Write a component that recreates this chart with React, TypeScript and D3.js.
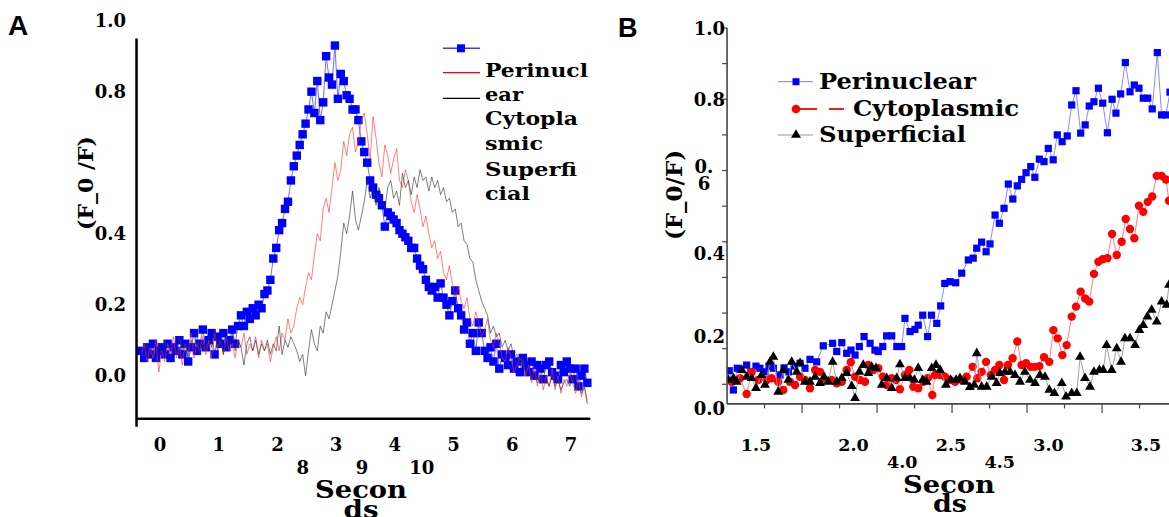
import React from "react";
import * as d3 from "d3";

const W = 1169;
const H = 517;

// ---- Panel A: traces sampled every 0.05 s starting at -0.32 s ----
const aStart = -0.32;
const aStep = 0.05;

const aPerinuclear = [
  0.07, 0.05, 0.08, 0.06, 0.09, 0.05, 0.07, 0.08, 0.06, 0.09,
  0.05, 0.08, 0.07, 0.1, 0.06, 0.09, 0.04, 0.08, 0.12, 0.07,
  0.09, 0.13, 0.08, 0.1, 0.12, 0.06, 0.11, 0.09, 0.12, 0.08,
  0.1, 0.13, 0.09, 0.14, 0.17, 0.14, 0.18, 0.16, 0.19, 0.17,
  0.2, 0.19, 0.23, 0.24, 0.27, 0.33, 0.36, 0.41, 0.43, 0.47,
  0.49, 0.55, 0.59, 0.62, 0.65, 0.68, 0.71, 0.75, 0.8, 0.74,
  0.83, 0.72, 0.77, 0.9, 0.84, 0.82, 0.93, 0.78, 0.85, 0.83,
  0.79, 0.78, 0.75, 0.75, 0.72, 0.66, 0.63, 0.6, 0.55, 0.53,
  0.51, 0.5, 0.48, 0.42, 0.46, 0.45, 0.44, 0.43, 0.41, 0.4,
  0.39, 0.38, 0.36, 0.36, 0.33, 0.31, 0.3, 0.27, 0.25, 0.24,
  0.25, 0.22, 0.26, 0.22, 0.2, 0.17, 0.21, 0.24, 0.19, 0.17,
  0.13, 0.15, 0.09, 0.12, 0.07, 0.15, 0.12, 0.07, 0.05, 0.08,
  0.04, 0.09, 0.02, 0.06, 0.05, 0.03, 0.06, 0.02, 0.04, 0.01,
  0.05, 0.03, 0.01, 0.04, 0.0, 0.03, 0.02, -0.01, 0.03, 0.04,
  0.01, 0.0, -0.01, 0.03, 0.01, 0.04, 0.02, -0.01, 0.02, -0.03,
  0.0, 0.02, -0.02,
];

const aCytoplasmic = [
  0.06, 0.09, 0.04, 0.08, 0.05, 0.1, 0.01, 0.07, 0.04, 0.09,
  0.06, 0.11, 0.05, 0.08, 0.03, 0.09, 0.06, 0.12, 0.05, 0.09,
  0.07, 0.11, 0.06, 0.1, 0.05, 0.12, 0.08, 0.1, 0.06, 0.11,
  0.07, 0.09, 0.05, 0.1, 0.08, 0.12, 0.06, 0.09, 0.07, 0.11,
  0.05, 0.1, 0.07, 0.09, 0.04, 0.08, 0.11, 0.07, 0.12, 0.1,
  0.16, 0.12, 0.14, 0.19, 0.22, 0.2, 0.25, 0.29, 0.27, 0.34,
  0.4, 0.38, 0.47, 0.5, 0.46, 0.53, 0.6, 0.55, 0.58, 0.66,
  0.62, 0.68, 0.7, 0.63, 0.66, 0.72, 0.74, 0.68, 0.61, 0.73,
  0.67, 0.6, 0.56, 0.65, 0.62, 0.57, 0.61, 0.64, 0.55, 0.53,
  0.58, 0.55, 0.49, 0.46, 0.51, 0.47, 0.42, 0.45, 0.4, 0.36,
  0.38, 0.33, 0.35, 0.29, 0.27, 0.31, 0.26, 0.22, 0.25, 0.21,
  0.19, 0.22, 0.16, 0.14, 0.18, 0.15, 0.11, 0.13, 0.16, 0.1,
  0.08, 0.12, 0.09, 0.05, 0.04, 0.08, 0.05, 0.01, 0.03, 0.05,
  0.04, 0.0, 0.03, -0.02, 0.02, -0.03, 0.01, -0.04, 0.0, -0.03,
  0.02, -0.04, 0.0, -0.05, -0.01, -0.03, 0.01, -0.02, -0.05, -0.01,
  -0.06, -0.03, -0.07,
];

const aSuperficial = [
  0.07, 0.05, 0.09, 0.06, 0.08, 0.04, 0.09, 0.06, 0.1, 0.07,
  0.05, 0.09, 0.06, 0.11, 0.07, 0.09, 0.05, 0.1, 0.08, 0.12,
  0.06, 0.1, 0.07, 0.11, 0.08, 0.13, 0.07, 0.1, 0.06, 0.11,
  0.08, 0.12, 0.07, 0.1, 0.08, 0.03, 0.09, 0.11, 0.07, 0.1,
  0.06, 0.09, 0.07, 0.1, 0.06, 0.09, 0.07, 0.14, 0.06, 0.1,
  0.08, 0.11, 0.09, 0.07, 0.04, 0.06, 0.0, 0.07, 0.13, 0.09,
  0.07, 0.14, 0.12, 0.18, 0.16, 0.2, 0.24, 0.28, 0.35, 0.43,
  0.4, 0.45, 0.52, 0.44, 0.41, 0.45, 0.49, 0.55, 0.5, 0.53,
  0.48, 0.53, 0.5, 0.47, 0.53, 0.55, 0.5, 0.52, 0.48, 0.57,
  0.53, 0.55, 0.51, 0.56, 0.53, 0.58, 0.55, 0.56, 0.52, 0.56,
  0.53, 0.55, 0.51, 0.53, 0.49, 0.5, 0.46, 0.47, 0.42, 0.43,
  0.38, 0.37, 0.33, 0.32, 0.27, 0.24, 0.21, 0.19, 0.17, 0.12,
  0.14, 0.11, 0.12, 0.08, 0.1, 0.07, 0.09, 0.05, 0.06, 0.03,
  0.05, 0.01, 0.02, -0.01, 0.01, -0.02, 0.0, -0.02, -0.01, -0.03,
  0.0, -0.03, -0.01, -0.04, -0.02, -0.01, -0.03, 0.0, -0.04, -0.02,
  -0.05, -0.03, -0.08,
];

const aXTicks = [0, 1, 2, 3, 4, 5, 6, 7];
const aXTicksRow2 = [
  { label: "8", at: 2.43 },
  { label: "9", at: 3.44 },
  { label: "10", at: 4.46 },
];
const aYTicks = [1.0, 0.8, 0.4, 0.2, 0.0];
const aLegendText = ["Perinucl", "ear", "Cytopla", "smic", "Superfi", "cial"];
const aLegendWidths = [103, 38, 93, 58, 92, 45];

// ---- Panel B: [seconds, F0/F] ----
const bPerinuclear = [
  [1.363, 0.038], [1.384, -0.016], [1.404, 0.045], [1.452, 0.054], [1.474, 0.035],
  [1.5, 0.051], [1.52, 0.045], [1.546, 0.035], [1.567, 0.051], [1.589, 0.045],
  [1.623, 0.026], [1.644, 0.046], [1.666, 0.035], [1.695, 0.051], [1.726, 0.059],
  [1.751, 0.045], [1.777, 0.07], [1.811, 0.063], [1.845, 0.108], [1.893, 0.115],
  [1.914, 0.092], [1.94, 0.117], [1.965, 0.087], [1.987, 0.096], [2.008, 0.082],
  [2.03, 0.106], [2.054, 0.134], [2.085, 0.115], [2.11, 0.096], [2.127, 0.092],
  [2.15, 0.106], [2.17, 0.136], [2.196, 0.136], [2.222, 0.106], [2.247, 0.106],
  [2.264, 0.185], [2.29, 0.148], [2.315, 0.154], [2.332, 0.166], [2.355, 0.194],
  [2.38, 0.134], [2.4, 0.194], [2.427, 0.171], [2.447, 0.22], [2.468, 0.283],
  [2.495, 0.288], [2.524, 0.285], [2.555, 0.312], [2.589, 0.349], [2.614, 0.354],
  [2.632, 0.382], [2.657, 0.399], [2.68, 0.372], [2.7, 0.394], [2.726, 0.475],
  [2.748, 0.452], [2.772, 0.494], [2.794, 0.562], [2.817, 0.52], [2.84, 0.557],
  [2.862, 0.575], [2.885, 0.594], [2.909, 0.611], [2.93, 0.581], [2.953, 0.632],
  [2.977, 0.625], [2.999, 0.662], [3.024, 0.63], [3.045, 0.7], [3.07, 0.681],
  [3.096, 0.697], [3.119, 0.784], [3.141, 0.824], [3.165, 0.705], [3.188, 0.728],
  [3.209, 0.781], [3.233, 0.793], [3.256, 0.831], [3.278, 0.789], [3.302, 0.706],
  [3.326, 0.8], [3.346, 0.761], [3.37, 0.815], [3.394, 0.903], [3.418, 0.821],
  [3.44, 0.84], [3.464, 0.831], [3.486, 0.803], [3.509, 0.803], [3.532, 0.773],
  [3.558, 0.931], [3.58, 0.756], [3.602, 0.756], [3.623, 0.82],
];

const bCytoplasmic = [
  [1.375, 0.007], [1.418, 0.017], [1.452, -0.027], [1.478, 0.035], [1.512, 0.012],
  [1.555, 0.012], [1.58, 0.017], [1.614, 0.007], [1.64, -0.016], [1.674, 0.007],
  [1.7, -0.002], [1.726, 0.021], [1.751, 0.012], [1.777, -0.011], [1.803, 0.04],
  [1.828, 0.035], [1.854, 0.012], [1.888, 0.012], [1.914, 0.003], [1.94, 0.007],
  [1.965, 0.04], [1.986, 0.062], [2.008, 0.021], [2.033, 0.012], [2.059, 0.007],
  [2.076, 0.054], [2.102, 0.04], [2.127, 0.045], [2.15, 0.021], [2.17, -0.002],
  [2.196, 0.017], [2.218, 0.012], [2.238, -0.014], [2.264, 0.026], [2.286, 0.04],
  [2.307, -0.007], [2.332, -0.011], [2.358, 0.007], [2.382, 0.018], [2.404, -0.03],
  [2.418, 0.026], [2.444, 0.026], [2.469, 0.021], [2.495, 0.012], [2.521, 0.007],
  [2.555, 0.012], [2.58, 0.021], [2.611, 0.049], [2.635, 0.017], [2.657, 0.035],
  [2.68, 0.063], [2.704, 0.026], [2.726, 0.04], [2.748, 0.054], [2.772, 0.012],
  [2.792, 0.054], [2.816, 0.073], [2.84, 0.12], [2.862, 0.054], [2.885, 0.059],
  [2.909, 0.049], [2.93, 0.049], [2.953, 0.051], [2.977, 0.076], [3.004, 0.063],
  [3.025, 0.152], [3.047, 0.129], [3.071, 0.082], [3.093, 0.11], [3.119, 0.19],
  [3.141, 0.218], [3.165, 0.26], [3.188, 0.241], [3.209, 0.232], [3.233, 0.31],
  [3.256, 0.344], [3.278, 0.351], [3.302, 0.354], [3.326, 0.422], [3.35, 0.363],
  [3.375, 0.4], [3.396, 0.464], [3.418, 0.436], [3.44, 0.41], [3.464, 0.501],
  [3.486, 0.484], [3.509, 0.512], [3.532, 0.527], [3.555, 0.585], [3.58, 0.585],
  [3.602, 0.575], [3.618, 0.515],
];

const bSuperficial = [
  [1.358, 0.012], [1.384, 0.017], [1.401, 0.007], [1.427, 0.04], [1.452, 0.021],
  [1.478, 0.017], [1.5, -0.011], [1.529, 0.026], [1.546, -0.002], [1.572, 0.063],
  [1.589, 0.077], [1.614, -0.021], [1.64, 0.04], [1.666, 0.012], [1.683, 0.063],
  [1.709, 0.035], [1.726, 0.059], [1.751, 0.007], [1.777, 0.007], [1.803, 0.021],
  [1.828, 0.003], [1.849, 0.021], [1.871, 0.007], [1.893, 0.063], [1.914, 0.007],
  [1.94, 0.017], [1.965, 0.031], [1.991, -0.005], [2.008, -0.039], [2.03, 0.035],
  [2.05, 0.054], [2.076, 0.031], [2.093, 0.049], [2.115, 0.045], [2.145, -0.002],
  [2.17, 0.017], [2.196, -0.011], [2.222, 0.017], [2.238, 0.056], [2.264, 0.017],
  [2.29, 0.017], [2.312, 0.012], [2.332, 0.045], [2.355, 0.012], [2.375, 0.007],
  [2.401, 0.045], [2.423, 0.054], [2.444, 0.04], [2.474, -0.002], [2.498, 0.012],
  [2.526, 0.012], [2.546, 0.017], [2.572, 0.007], [2.597, -0.008], [2.619, -0.002],
  [2.632, 0.087], [2.657, -0.007], [2.683, -0.007], [2.709, 0.021], [2.734, 0.003],
  [2.751, 0.031], [2.777, 0.035], [2.803, 0.035], [2.828, 0.026], [2.854, 0.007],
  [2.879, 0.035], [2.905, 0.012], [2.931, 0.003], [2.956, 0.026], [2.982, 0.021],
  [3.004, -0.016], [3.03, -0.025], [3.068, 0.003], [3.09, -0.035], [3.119, -0.025],
  [3.145, -0.025], [3.162, 0.077], [3.187, 0.017], [3.213, -0.007], [3.233, 0.035],
  [3.261, 0.04], [3.281, 0.04], [3.298, 0.11], [3.324, 0.04], [3.35, 0.101],
  [3.372, 0.063], [3.392, 0.129], [3.418, 0.129], [3.444, 0.11], [3.466, 0.152],
  [3.486, 0.166], [3.507, 0.19], [3.529, 0.209], [3.555, 0.176], [3.58, 0.232],
  [3.606, 0.223], [3.618, 0.279],
];

const bXTicks = [1.5, 2.0, 2.5, 3.0, 3.5];
const bXTicksRow2 = [
  { label: "4.0", at: 2.25 },
  { label: "4.5", at: 2.75 },
];
const bYTickValues = d3.range(0, 11).map((i) => i / 10);
const bYLabels = [
  { label: "1.0", at: 1.0 },
  { label: "0.8", at: 0.8 },
  { label: "0.4", at: 0.368 },
  { label: "0.2", at: 0.134 },
  { label: "0.0", at: -0.067 },
];
const bLegend = ["Perinuclear", "Cytoplasmic", "Superficial"];

const SERIF = "'DejaVu Serif', serif";
const SANS = "'Liberation Sans', Arial, sans-serif";

export default function App() {
  // panel A scales
  const xA = d3.scaleLinear().domain([0, 7]).range([160, 570.9]);
  const yA = d3.scaleLinear().domain([0, 1]).range([375.7, 20.7]);
  const aX0 = xA(-0.4);
  const aX1 = xA(7.33);
  const aYTop = yA(0.95);
  const aYBot = yA(-0.121);

  // panel B scales
  const xB = d3.scaleLinear().domain([1.5, 3.5]).range([756, 1146]);
  const yB = d3.scaleLinear().domain([0, 1]).range([384.3, 28]);
  const bX0 = xB(1.3515);
  const bYBot = yB(-0.055);
  const bTickScale = d3.scaleLinear().domain([0, 1]).range([bX0, bX0 + 37.5]);
  const bTickIdx = d3.range(1, 12);

  const aPts = (vals: number[]) =>
    vals.map((v, i) => [aStart + i * aStep, v] as [number, number]);
  const lineA = d3
    .line<[number, number]>()
    .x((d) => xA(d[0]))
    .y((d) => yA(d[1]));
  const lineB = d3
    .line<number[]>()
    .x((d) => xB(d[0]))
    .y((d) => yB(d[1]));
  const tri = d3.symbol().type(d3.symbolTriangle).size(42)();

  const blueA = aPts(aPerinuclear);
  const redA = aPts(aCytoplasmic);
  const blackA = aPts(aSuperficial);

  return (
    <svg
      width={W}
      height={H}
      style={{ position: "absolute", left: 0, top: 0, background: "#fff" }}
    >
      <defs>
        <clipPath id="clipB">
          <rect x={bX0} y={0} width={W - bX0} height={bYBot} />
        </clipPath>
      </defs>

      {/* ================= Panel A ================= */}
      <text x={8} y={35} fontFamily={SANS} fontWeight="bold" fontSize={28}>
        A
      </text>

      <g fontFamily={SERIF} fontWeight="bold" fontSize={18}>
        {aYTicks.map((v) => (
          <text key={v} x={126} y={yA(v) + 6.6} textAnchor="end">
            {v.toFixed(1)}
          </text>
        ))}
        {aXTicks.map((v) => (
          <text key={v} x={xA(v)} y={450.7} textAnchor="middle">
            {v}
          </text>
        ))}
        {aXTicksRow2.map((d) => (
          <text key={d.label} x={xA(d.at)} y={474} textAnchor="middle">
            {d.label}
          </text>
        ))}
      </g>
      <g fontFamily={SERIF} fontWeight="bold" fontSize={24}>
        <text x={361} y={498} textAnchor="middle" textLength={92} lengthAdjust="spacingAndGlyphs">
          Secon
        </text>
        <text x={361} y={518} textAnchor="middle" textLength={35} lengthAdjust="spacingAndGlyphs">
          ds
        </text>
      </g>
      <text
        transform="translate(93,183) rotate(-90)"
        textAnchor="middle"
        fontFamily={SERIF}
        fontWeight="bold"
        fontSize={21}
        textLength={94}
        lengthAdjust="spacingAndGlyphs"
      >
        (F_0 /F)
      </text>

      {/* traces */}
      <path d={lineA(blueA) || ""} fill="none" stroke="#6f6fff" strokeWidth={1} />
      {blueA.map((d, i) => (
        <rect
          key={i}
          x={xA(d[0]) - 4.2}
          y={yA(d[1]) - 4.2}
          width={8.4}
          height={8.4}
          fill="#0000ff"
        />
      ))}
      <path d={lineA(redA) || ""} fill="none" stroke="#ff2a2a" strokeWidth={0.7} strokeOpacity={0.85} />
      <path d={lineA(blackA) || ""} fill="none" stroke="#333" strokeWidth={0.7} strokeOpacity={0.9} />

      {/* axes A */}
      <line x1={aX0} x2={aX0} y1={aYTop} y2={aYBot + 8} stroke="#000" strokeWidth={2.5} />
      <line x1={aX0} x2={aX1} y1={aYBot} y2={aYBot} stroke="#000" strokeWidth={2.5} />

      {/* legend A */}
      <line x1={443} x2={480} y1={48.3} y2={48.3} stroke="#3a3aff" strokeWidth={1.5} />
      <rect x={457} y={44.3} width={8} height={8} fill="#0000ff" />
      <line x1={443} x2={480} y1={72.7} y2={72.7} stroke="#ff0000" strokeWidth={1.2} />
      <line x1={443} x2={480} y1={98.3} y2={98.3} stroke="#000" strokeWidth={1.2} />
      <g fontFamily={SERIF} fontWeight="bold" fontSize={19}>
        {aLegendText.map((t, i) => (
          <text
            key={t}
            x={485}
            y={[76.5, 100.5, 125, 150, 176, 200][i]}
            textLength={aLegendWidths[i]}
            lengthAdjust="spacingAndGlyphs"
          >
            {t}
          </text>
        ))}
      </g>

      {/* ================= Panel B ================= */}
      <text x={618} y={37} fontFamily={SANS} fontWeight="bold" fontSize={27}>
        B
      </text>

      <g clipPath="url(#clipB)">
        <path d={lineB(bPerinuclear) || ""} fill="none" stroke="#7a7aff" strokeWidth={0.9} />
        {bPerinuclear.map((d, i) => (
          <rect
            key={i}
            x={xB(d[0]) - 3.6}
            y={yB(d[1]) - 3.6}
            width={7.2}
            height={7.2}
            fill="#0000ff"
          />
        ))}
        <path d={lineB(bCytoplasmic) || ""} fill="none" stroke="#ff7070" strokeWidth={0.9} />
        {bCytoplasmic.map((d, i) => (
          <circle key={i} cx={xB(d[0])} cy={yB(d[1])} r={4.2} fill="#ff0000" />
        ))}
        <path d={lineB(bSuperficial) || ""} fill="none" stroke="#999" strokeWidth={0.9} />
        {bSuperficial.map((d, i) => (
          <path
            key={i}
            d={tri || ""}
            transform={`translate(${xB(d[0])},${yB(d[1])})`}
            fill="#000"
          />
        ))}
      </g>

      {/* axes B */}
      <line x1={bX0} x2={bX0} y1={yB(1)} y2={bYBot} stroke="#444" strokeWidth={1.6} />
      <line x1={bX0} x2={W} y1={bYBot} y2={bYBot} stroke="#444" strokeWidth={1.6} />
      {bYTickValues.map((v) => (
        <line key={v} x1={bX0 - 5} x2={bX0} y1={yB(v)} y2={yB(v)} stroke="#444" strokeWidth={1.2} />
      ))}
      {bTickIdx.map((k) => (
        <line
          key={k}
          x1={bTickScale(k)}
          x2={bTickScale(k)}
          y1={bYBot}
          y2={bYBot + (k % 2 === 0 ? 9 : 4.5)}
          stroke="#444"
          strokeWidth={1.2}
        />
      ))}

      <g fontFamily={SERIF} fontWeight="bold" fontSize={18}>
        {bYLabels.map((d) => (
          <text key={d.label} x={725} y={yB(d.at) + 6.7} textAnchor="end">
            {d.label}
          </text>
        ))}
        <text x={704} y={yB(0.612) + 6.7} textAnchor="middle">
          0.
        </text>
        <text x={704} y={yB(0.612) + 23.7} textAnchor="middle">
          6
        </text>
      </g>
      <g fontFamily={SERIF} fontWeight="bold" fontSize={17.5}>
        {bXTicks.map((v) => (
          <text key={v} x={xB(v)} y={450.7} textAnchor="middle">
            {v.toFixed(1)}
          </text>
        ))}
        {bXTicksRow2.map((d) => (
          <text key={d.label} x={xB(d.at)} y={468.3} textAnchor="middle">
            {d.label}
          </text>
        ))}
      </g>
      <g fontFamily={SERIF} fontWeight="bold" fontSize={24}>
        <text x={949} y={492.7} textAnchor="middle" textLength={92} lengthAdjust="spacingAndGlyphs">
          Secon
        </text>
        <text x={950} y={512} textAnchor="middle" textLength={34} lengthAdjust="spacingAndGlyphs">
          ds
        </text>
      </g>
      <text
        transform="translate(682,195) rotate(-90)"
        textAnchor="middle"
        fontFamily={SERIF}
        fontWeight="bold"
        fontSize={22}
        textLength={90}
        lengthAdjust="spacingAndGlyphs"
      >
        (F_0/F)
      </text>

      {/* legend B */}
      <line x1={778} x2={813} y1={81.7} y2={81.7} stroke="#7a7aff" strokeWidth={1} />
      <rect x={792.5} y={78.2} width={7} height={7} fill="#0000ff" />
      <circle cx={796} cy={109} r={4.3} fill="#ff0000" />
      <line x1={800} x2={817} y1={109} y2={109} stroke="#ff0000" strokeWidth={1.8} />
      <line x1={829} x2={844} y1={109} y2={109} stroke="#ff0000" strokeWidth={1.8} />
      <line x1={778} x2={813} y1={135} y2={135} stroke="#999" strokeWidth={1} />
      <path d={tri || ""} transform="translate(796,135)" fill="#000" />
      <g fontFamily={SERIF} fontWeight="bold" fontSize={23}>
        <text x={819} y={89.3} textLength={157} lengthAdjust="spacingAndGlyphs">
          {bLegend[0]}
        </text>
        <text x={853} y={116} textLength={166} lengthAdjust="spacingAndGlyphs">
          {bLegend[1]}
        </text>
        <text x={819} y={141.7} textLength={147} lengthAdjust="spacingAndGlyphs">
          {bLegend[2]}
        </text>
      </g>
    </svg>
  );
}
